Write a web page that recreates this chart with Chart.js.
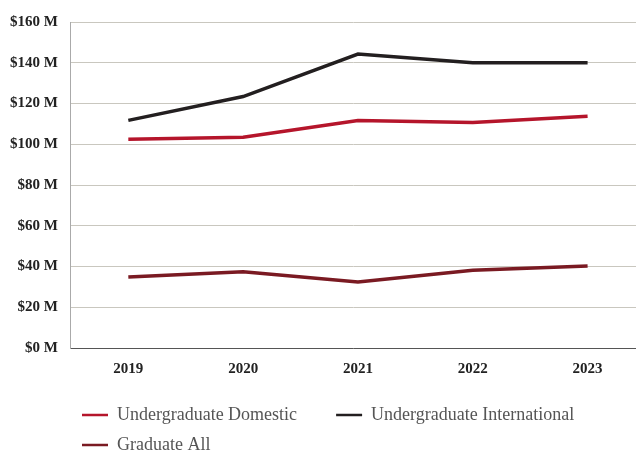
<!DOCTYPE html>
<html>
<head>
<meta charset="utf-8">
<script src="https://cdn.jsdelivr.net/npm/chart.js@4"></script>
<style>
  html, body { margin: 0; padding: 0; background: #fff; }
  #wrap { width: 636px; height: 450px; }
</style>
</head>
<body>
<div id="wrap"><canvas id="chartCanvas" width="636" height="450"></canvas></div>
<script>
const years = ['2019', '2020', '2021', '2022', '2023'];
const ugDomestic = [102.5, 103.4, 111.6, 110.7, 113.8];
const ugInternational = [111.7, 123.4, 144.3, 140, 140];
const gradAll = [34.8, 37.4, 32.4, 38.2, 40.2];
const yTicks = [0, 20, 40, 60, 80, 100, 120, 140, 160];

const serif = "'Liberation Serif', 'DejaVu Serif', serif";

// original spreads the categories a bit wider than the canvas and
// puts the legend under the plot area
const layoutTweak = {
  id: 'layoutTweak',
  afterLayout(chart) {
    const xs = chart.scales.x;
    xs.right += 9;
    xs.width = xs.right - xs.left;
    xs.configure();
    const lg = chart.legend;
    if (!lg) return;
    lg.left = 70;
    lg.right = 636;
    lg.top += 4;
    lg.bottom += 4;
  }
};

const ctx = document.getElementById('chartCanvas').getContext('2d');
new Chart(ctx, {
  type: 'line',
  data: {
    labels: years,
    datasets: [
      { label: 'Undergraduate Domestic', data: ugDomestic, borderColor: '#b5152b', backgroundColor: '#b5152b', borderWidth: 3.5 },
      { label: 'Undergraduate International', data: ugInternational, borderColor: '#231f20', backgroundColor: '#231f20', borderWidth: 3.5 },
      { label: 'Graduate All', data: gradAll, borderColor: '#7a1a22', backgroundColor: '#7a1a22', borderWidth: 3.5 }
    ]
  },
  options: {
    responsive: false,
    animation: false,
    layout: { padding: { top: 8, left: -3, right: 0, bottom: -10 } },
    elements: {
      line: { tension: 0 },
      point: { radius: 0 }
    },
    plugins: {
      tooltip: { enabled: false },
      legend: {
        position: 'bottom',
        align: 'start',
        labels: {
          usePointStyle: true,
          pointStyle: 'line',
          pointStyleWidth: 26,
          padding: 12,
          color: '#555',
          font: { family: serif, size: 18 },
          generateLabels(chart) {
            const items = Chart.defaults.plugins.legend.labels.generateLabels(chart);
            items.forEach(it => {
              it.lineWidth = 2.5;
              if (it.datasetIndex === 0) it.text += '\u2003\u2002';
            });
            return items;
          }
        }
      }
    },
    scales: {
      x: {
        offset: true,
        grid: { display: false, drawTicks: false },
        border: { color: '#555', width: 1 },
        ticks: { padding: 12, color: '#222', font: { family: serif, size: 15, weight: 'bold' } }
      },
      y: {
        min: 0,
        max: 160,
        afterBuildTicks(axis) { axis.ticks = yTicks.map(v => ({ value: v })); },
        grid: { color: '#c9c7bf', drawTicks: false },
        border: { color: '#aaa', width: 1 },
        ticks: {
          padding: 13,
          color: '#222',
          font: { family: serif, size: 15, weight: 'bold' },
          callback: v => '$' + v + ' M'
        }
      }
    }
  },
  plugins: [layoutTweak]
});
</script>
</body>
</html>
